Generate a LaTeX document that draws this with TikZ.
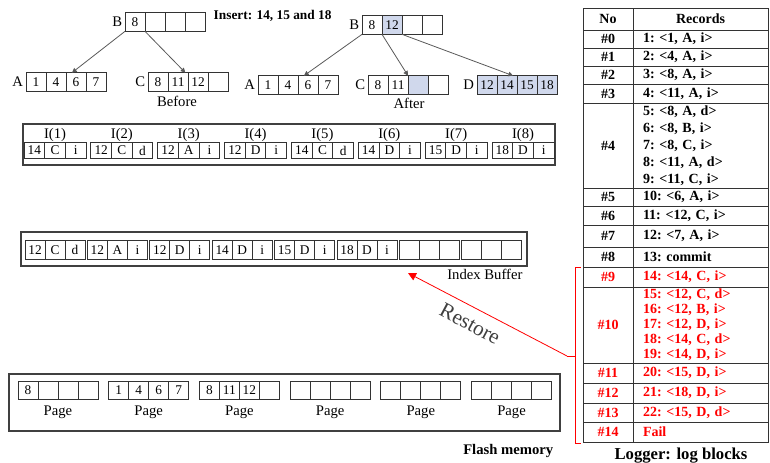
\documentclass[tikz,border=0pt]{standalone}
\usepackage{fontspec}
\setmainfont{Liberation Serif}
\usetikzlibrary{arrows.meta,positioning,calc}
\definecolor{shadeblue}{RGB}{208,216,236}

\begin{document}
\begin{tikzpicture}[
  x=0.75pt, y=-0.75pt,
  cell/.style={rectangle, draw=black!80, line width=0.7pt, minimum width=15pt,
               minimum height=14pt, inner sep=0pt, outer sep=0pt,
               font=\fontsize{10}{12}\selectfont},
  ecell/.style={cell, minimum width=15.5pt, minimum height=11.5pt},
  hit/.style={fill=shadeblue},
  lab/.style={font=\fontsize{11}{13}\selectfont, inner sep=1pt},
  frame/.style={draw=black!75, line width=0.9pt},
  ptr/.style={-{Triangle[length=3.5pt, width=3.5pt]}, draw=black!65, line width=0.6pt},
  nocell/.style={rectangle, draw=black!80, line width=0.7pt, minimum width=37.5pt,
                 inner sep=0pt, font=\bfseries\fontsize{10.5}{11.3}\selectfont},
  reccell/.style={rectangle, draw=black!80, line width=0.7pt, minimum width=101.25pt,
                  text width=86.25pt, inner xsep=7.5pt, inner ysep=0pt, align=left,
                  font=\bfseries\frenchspacing\fontsize{10.5}{11.3}\selectfont},
  restore/.style={-{Triangle[length=6pt, width=6pt]}, draw=red, line width=0.6pt},
]
\useasboundingbox (0,0) rectangle (770,463);

% B+ tree before the insert
\foreach \v [count=\i] in {8,{},{},{}}
  \node[cell] (bB\i) at ({115+20*\i},22) {\v};
\foreach \v [count=\i] in {1,4,6,7}
  \node[cell] (bA\i) at ({16+20*\i},82) {\v};
\foreach \v [count=\i] in {8,11,12,{}}
  \node[cell] (bC\i) at ({138+20*\i},82) {\v};
\node[lab, left=1pt of bB1] (bBl) {B};
\node[lab, left=1pt of bA1] (bAl) {A};
\node[lab, left=1pt of bC1] (bCl) {C};
\node[lab] (before) at (177,101) {Before};
\draw[ptr] (bB1.south west) -- ([xshift=-3pt]bA3.north);
\draw[ptr] (bB1.south east) -- ([xshift=-2pt]bC2.north east);

\node[font=\bfseries\fontsize{10}{12}\selectfont, anchor=west] (insert) at (209,16)
  {Insert: 14, 15 and 18};

% B+ tree after the insert
\foreach \v/\s [count=\i] in {8/,12/hit,{}/,{}/}
  \node[cell, \s] (aB\i) at ({352+20*\i},25) {\v};
\foreach \v [count=\i] in {1,4,6,7}
  \node[cell] (aA\i) at ({248+20*\i},85) {\v};
\foreach \v/\s [count=\i] in {8/,11/,{}/hit,{}/}
  \node[cell, \s] (aC\i) at ({358+20*\i},85) {\v};
\foreach \v [count=\i] in {12,14,15,18}
  \node[cell, hit] (aD\i) at ({467+20*\i},85) {\v};
\node[lab, left=1pt of aB1] (aBl) {B};
\node[lab, left=1pt of aA1] (aAl) {A};
\node[lab, left=1pt of aC1] (aCl) {C};
\node[lab, left=1pt of aD1] (aDl) {D};
\node[lab] (after) at (409,103) {After};
\draw[ptr] (aB1.south west) -- ([xshift=-3pt]aA3.north);
\draw[ptr] (aB1.south east) -- (aC3.north west);
\draw[ptr] (aB2.south east) -- ([xshift=-3pt]aD2.north east);

% Index entries I(1)..I(8)
\draw[frame] (23,124) rectangle (555,165);
\foreach \n/\l/\o [count=\k] in {14/C/i,12/C/d,12/A/i,12/D/i,14/C/d,14/D/i,15/D/i,18/D/i} {
  \node[ecell] (e\k-1) at ({34.35+66.86*(\k-1)},150.5) {\n};
  \node[ecell, right=0pt of e\k-1] (e\k-2) {\l};
  \node[ecell, right=0pt of e\k-2] (e\k-3) {\o};
  \node[lab, above=0pt of e\k-2] (e\k) {I(\k)};
}

% Index buffer
\draw[frame] (21,232) rectangle (527,266);
\foreach \n/\l/\o [count=\k] in {12/C/d,12/A/i,12/D/i,14/D/i,15/D/i,18/D/i,{}/{}/{},{}/{}/{}} {
  \node[cell] (buf\k-1) at ({35+62.4*(\k-1)},250) {\n};
  \node[cell, right=0pt of buf\k-1] (buf\k-2) {\l};
  \node[cell, right=0pt of buf\k-2] (buf\k-3) {\o};
}
\node[lab, anchor=north east] (ibuf) at (524,268) {Index Buffer};

% Flash memory pages
\draw[frame] (9,374) rectangle (560,431);
\foreach \a/\b/\c/\d [count=\k] in {8/{}/{}/{},1/4/6/7,8/11/12/{},{}/{}/{}/{},{}/{}/{}/{},{}/{}/{}/{}} {
  \node[cell] (pg\k-1) at ({28+90.7*(\k-1)},390.5) {\a};
  \node[cell, right=0pt of pg\k-1] (pg\k-2) {\b};
  \node[cell, right=0pt of pg\k-2] (pg\k-3) {\c};
  \node[cell, right=0pt of pg\k-3] (pg\k-4) {\d};
  \node[lab, below=3pt of pg\k-2.south east] (pl\k) {Page};
}
\node[font=\bfseries\fontsize{11}{13}\selectfont, anchor=east] (flash) at (558,451) {Flash memory};

% Logger table
\node[nocell, minimum height=16.5pt] (noh) at (608,19) {No};
\node[reccell, minimum height=16.5pt, align=center] (rech) at (700.5,19) {Records};
\foreach \t/\b/\n/\c/\r in {
  30/48/0/black/{1: <1, A, i>},
  48/66/1/black/{2: <4, A, i>},
  66/84/2/black/{3: <8, A, i>},
  84/103/3/black/{4: <11, A, i>},
  103/188/4/black/{5: <8, A, d>\\[1.4pt]6: <8, B, i>\\[1.4pt]7: <8, C, i>\\[1.4pt]8: <11, A, d>\\[1.4pt]9: <11, C, i>},
  188/206/5/black/{10: <6, A, i>},
  206/225/6/black/{11: <12, C, i>},
  225/247/7/black/{12: <7, A, i>},
  247/267/8/black/{13: commit},
  267/287/9/red/{14: <14, C, i>},
  287/363/10/red/{15: <12, C, d>\\16: <12, B, i>\\17: <12, D, i>\\18: <14, C, d>\\19: <14, D, i>},
  363/383/11/red/{20: <15, D, i>},
  383/403/12/red/{21: <18, D, i>},
  403/422/13/red/{22: <15, D, d>},
  422/442/14/red/{Fail}} {
  \node[nocell, text=\c, minimum height={(\b-\t)*0.75pt}] (no\n) at (608,{(\t+\b)/2}) {\#\n};
  \node[reccell, text=\c, minimum height={(\b-\t)*0.75pt}] (rec\n) at (700.5,{(\t+\b)/2}) {\r};
}
\node[font=\bfseries\fontsize{12.5}{14}\selectfont] (logger) at (681,456) {Logger: log blocks};

% Restore from the uncommitted log blocks
\coordinate (brtop) at (581,267);
\coordinate (brbot) at (581,443);
\coordinate (brmid) at (567,356);
\coordinate (rtip) at (408,273);
\draw[red, line width=0.6pt] (brtop) -- ++(-6,0) -- ($(brbot)+(-6,0)$) -- (brbot);
\draw[red, line width=0.6pt] (575,356) -- (brmid);
\draw[restore] (brmid) -- (rtip);
\node[font=\fontsize{16}{18}\selectfont, text=black!75, rotate=-28] (rst) at (470,324) {Restore};

\end{tikzpicture}
\end{document}
